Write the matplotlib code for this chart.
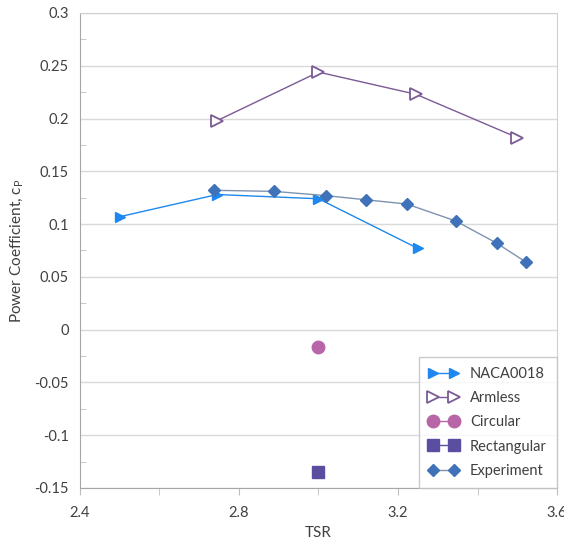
import matplotlib.pyplot as plt
from matplotlib.ticker import MultipleLocator

plt.rcParams['font.family'] = ['Lato', 'DejaVu Sans']

# NACA0018 airfoil
naca_tsr = [2.5, 2.745, 3.0, 3.25]
naca_cp = [0.107, 0.128, 0.124, 0.077]

# Armless rotor
armless_tsr = [2.745, 3.0, 3.245, 3.5]
armless_cp = [0.198, 0.244, 0.223, 0.182]

# Circular and rectangular arms (single points)
circular_tsr = [3.0]
circular_cp = [-0.016]
rect_tsr = [3.0]
rect_cp = [-0.135]

# Experiment
exp_tsr = [2.738, 2.888, 3.018, 3.12, 3.222, 3.345, 3.448, 3.522]
exp_cp = [0.132, 0.131, 0.127, 0.123, 0.119, 0.103, 0.082, 0.064]

fig = plt.figure(figsize=(5.64, 5.41), dpi=100)
ax = fig.add_axes([0.1418, 0.098, 0.8458, 0.878])

ax.plot(naca_tsr, naca_cp, color='#1E88F0', lw=1, marker='>', ms=7,
        label='NACA0018', zorder=3)
ax.plot(armless_tsr, armless_cp, color='#7B5A96', lw=1, marker='>', ms=8.5,
        mfc='white', mec='#7B5A96', mew=1.3, label='Armless', zorder=3)
ax.plot(circular_tsr, circular_cp, color='#B866A8', lw=1, marker='o', ms=9,
        label='Circular', zorder=3)
ax.plot(rect_tsr, rect_cp, color='#5A4EA0', lw=1, marker='s', ms=8,
        label='Rectangular', zorder=3)
ax.plot(exp_tsr, exp_cp, color='#7F93B0', lw=1, marker='D', ms=6.5,
        mfc='#3F72B8', mec='#3F72B8', label='Experiment', zorder=3)

ax.set_xlim(2.4, 3.6)
ax.set_ylim(-0.15, 0.3)
ax.xaxis.set_minor_locator(MultipleLocator(0.2))
ax.yaxis.set_minor_locator(MultipleLocator(0.025))
ax.set_xticks([2.4, 2.8, 3.2, 3.6])
ax.set_xticklabels(['2.4', '2.8', '3.2', '3.6'])
ax.set_yticks([0.3, 0.25, 0.2, 0.15, 0.1, 0.05, 0, -0.05, -0.1, -0.15])
ax.set_yticklabels(['0.3', '0.25', '0.2', '0.15', '0.1', '0.05', '0',
                    '-0.05', '-0.1', '-0.15'])

ax.grid(axis='y', which='major', color='#D9D9D9', lw=1, zorder=0)
ax.tick_params(axis='x', which='both', direction='out', length=5,
               color='#BFBFBF', labelsize=10.5, labelcolor='#404040', pad=8)
ax.tick_params(axis='y', which='major', length=0, labelsize=10.5,
               labelcolor='#404040', pad=8)
ax.tick_params(axis='y', which='minor', direction='in', length=4,
               color='#BFBFBF')
for s in ax.spines.values():
    s.set_color('#D0D0D0')
ax.spines['left'].set_color('#A6A6A6')
ax.spines['bottom'].set_color('#A6A6A6')

ax.set_xlabel('TSR', fontsize=11, color='#404040', labelpad=4)
ax.set_ylabel('Power Coefficient, c$_\\mathregular{P}$', fontsize=11,
              color='#404040', labelpad=6)

leg = ax.legend(loc='lower right', numpoints=2, fontsize=10.5, frameon=True,
                fancybox=False, edgecolor='#BFBFBF', borderpad=0.7,
                handlelength=2.0, labelspacing=0.7, borderaxespad=0)
leg.get_frame().set_linewidth(1)
for t in leg.get_texts():
    t.set_color('#404040')

fig.savefig('out.png', dpi=100)
